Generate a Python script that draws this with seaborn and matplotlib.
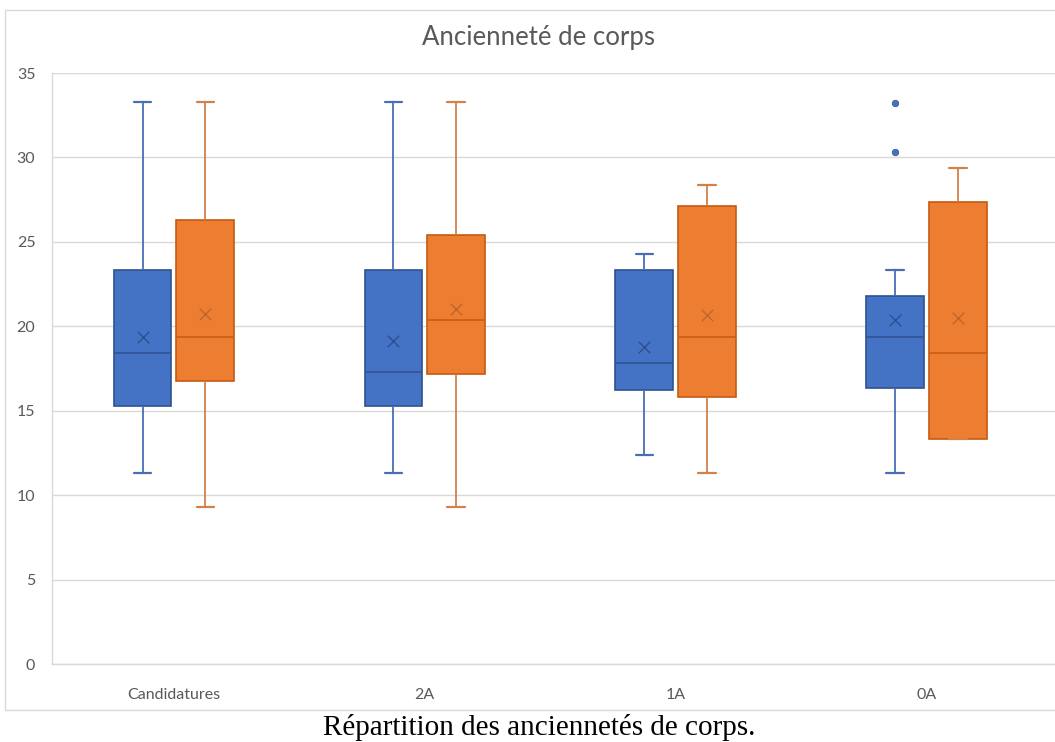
import numpy as np
import pandas as pd
import matplotlib
matplotlib.use("Agg")
import matplotlib.pyplot as plt
from matplotlib.patches import Rectangle
import seaborn as sns

# Categories and the two series (blue / orange)
categories = ["Candidatures", "2A", "1A", "0A"]
series = ["S1", "S2"]

# Five-number summaries per category: lower whisker, Q1, median, Q3, upper whisker
blue_low = [11.3, 11.3, 12.35, 11.3]
blue_q1 = [15.3, 15.3, 16.25, 16.35]
blue_med = [18.4, 17.3, 17.8, 19.35]
blue_q3 = [23.35, 23.35, 23.35, 21.8]
blue_high = [33.3, 33.3, 24.3, 23.35]
blue_mean = [19.35, 19.1, 18.75, 20.4]

orange_low = [9.3, 9.3, 11.3, 13.3]
orange_q1 = [16.75, 17.2, 15.8, 13.3]
orange_med = [19.35, 20.4, 19.35, 18.4]
orange_q3 = [26.3, 25.4, 27.15, 27.35]
orange_high = [33.3, 33.3, 28.35, 29.4]
orange_mean = [20.75, 21.0, 20.65, 20.5]

# Points beyond the whiskers (blue series)
blue_outlier_cats = ["0A", "0A"]
blue_outliers = [30.3, 33.25]

yticks = [0, 5, 10, 15, 20, 25, 30, 35]

FILL = {"S1": "#4472C4", "S2": "#ED7D31"}
EDGE = {"S1": "#2F528F", "S2": "#C55A11"}
WHISK = {"S1": "#4A6EB5", "S2": "#D4804A"}
MEANC = {"S1": "#2F5090", "S2": "#C0652C"}

rows = []
for s, parts in (("S1", (blue_low, blue_q1, blue_med, blue_q3, blue_high)),
                 ("S2", (orange_low, orange_q1, orange_med, orange_q3, orange_high))):
    for i, cat in enumerate(categories):
        for p in parts:
            rows.append({"cat": cat, "serie": s, "val": p[i]})
df = pd.DataFrame(rows)

sns.set_theme(style="white")
plt.rcParams["font.family"] = ["Lato", "DejaVu Sans"]

fig = plt.figure(figsize=(10.55, 7.42), dpi=100)
ax = fig.add_axes([0.0493, 0.1051, 0.9507, 0.7965])

WIDTH, GAP = 0.5, 0.08
sns.boxplot(
    data=df, x="cat", y="val", hue="serie",
    order=categories, hue_order=series, palette=FILL, saturation=1,
    width=WIDTH, gap=GAP, whis=(0, 100), showfliers=False,
    linecolor="#333333", linewidth=1.2, legend=False, ax=ax,
    capwidths=0.07,
)

# Recolour each box's lines according to which side of the category it sits on
pos = {c: i for i, c in enumerate(categories)}
def side_of(xc):
    return "S1" if (xc - round(xc)) < 0 else "S2"

for patch in ax.patches:
    verts = patch.get_path().vertices
    s = side_of(verts[:, 0].mean())
    patch.set_edgecolor(EDGE[s])
    patch.set_facecolor(FILL[s])
    patch.set_linewidth(1.2)

for line in ax.lines:
    xd = np.asarray(line.get_xdata(), dtype=float)
    if xd.size == 0:
        continue
    s = side_of(xd.mean())
    if np.allclose(xd, xd[0]):
        line.set_color(WHISK[s]); line.set_linewidth(1.3)       # whisker
    elif abs(xd.max() - xd.min()) < 0.1:
        line.set_color(WHISK[s]); line.set_linewidth(1.6)       # cap
    else:
        line.set_color(EDGE[s]); line.set_linewidth(1.1)        # median

# Mean markers and outliers at the dodged box centres
offset = {"S1": -WIDTH / 4, "S2": WIDTH / 4}
for s, means in (("S1", blue_mean), ("S2", orange_mean)):
    xs = [pos[c] + offset[s] for c in categories]
    sns.scatterplot(x=xs, y=means, marker="x", s=70, color=MEANC[s],
                    linewidth=1.0, ax=ax, zorder=5)
sns.scatterplot(x=[pos[c] + offset["S1"] for c in blue_outlier_cats],
                y=blue_outliers, s=22, color=FILL["S1"], edgecolor=EDGE["S1"],
                linewidth=0.5, ax=ax, zorder=5)

ax.set_xlim(-0.486, 3.512)
ax.set_ylim(0, 35)
ax.set_yticks(yticks)
ax.yaxis.grid(True, color="#D9D9D9", linewidth=1.0)
ax.set_axisbelow(True)
for side in ("top", "right"):
    ax.spines[side].set_visible(False)
for side in ("left", "bottom"):
    ax.spines[side].set_color("#D9D9D9")
    ax.spines[side].set_linewidth(1.0)
ax.tick_params(axis="both", length=0, colors="#595959", labelsize=11.5)
ax.tick_params(axis="x", pad=17)
ax.tick_params(axis="y", pad=12)
ax.set_xlabel("")
ax.set_ylabel("")

fig.text(0.5105, 0.950, "Ancienneté de corps", ha="center", va="center",
         fontsize=18.5, color="#595959")

# Chart frame
fig.patches.append(Rectangle((5 / 1055, 1 - 710 / 742), 1.0, 700 / 742,
                             transform=fig.transFigure, fill=False,
                             edgecolor="#D9D9D9", linewidth=1.0))

fig.text(0.5115, 0.0094, "Répartition des anciennetés de corps.", ha="center",
         va="baseline", fontsize=21, family=["Liberation Serif", "DejaVu Serif"],
         color="black")

fig.savefig("out.png", dpi=100, facecolor="white")
